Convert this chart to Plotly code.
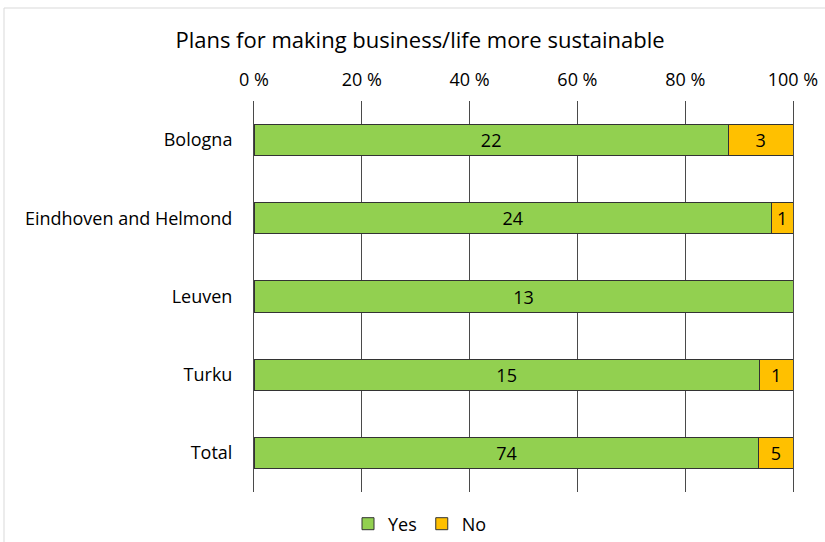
import plotly.graph_objects as go

categories = ["Bologna", "Eindhoven and Helmond", "Leuven", "Turku", "Total"]
yes_counts = [22, 24, 13, 15, 74]
no_counts = [3, 1, 0, 1, 5]
tick_vals = [0, 20, 40, 60, 80, 100]
tick_text = ["0 %", "20 %", "40 %", "60 %", "80 %", "100 %"]

FONT = "Open Sans"
FS = 18
GRID = "#4a4a4a"

fig = go.Figure()
fig.add_trace(go.Bar(
    y=categories, x=yes_counts, name="Yes", orientation="h",
    marker=dict(color="#92D050", line=dict(color="#333333", width=1)),
    text=[str(v) if v else "" for v in yes_counts],
    textposition="inside", insidetextanchor="middle",
    textfont=dict(color="black", size=FS, family=FONT),
    constraintext="none", hoverinfo="skip",
))
fig.add_trace(go.Bar(
    y=categories, x=no_counts, name="No", orientation="h",
    marker=dict(color="#FFC000", line=dict(color="#333333", width=1)),
    text=[str(v) if v else "" for v in no_counts],
    textposition="inside", insidetextanchor="middle",
    textfont=dict(color="black", size=FS, family=FONT),
    constraintext="none", hoverinfo="skip",
))

fig.update_layout(
    width=825, height=542,
    barmode="stack", barnorm="percent", bargap=0.6,
    paper_bgcolor="white", plot_bgcolor="white",
    font=dict(family=FONT, size=FS, color="black"),
    title=dict(text="Plans for making business/life more sustainable",
               x=420 / 825, xanchor="center", xref="container",
               y=1 - 40 / 542, yanchor="middle", yref="container",
               font=dict(size=22, family=FONT, color="black")),
    margin=dict(l=254, r=32, t=101, b=50, autoexpand=False),
    xaxis=dict(side="top", range=[0, 100], tickvals=tick_vals, ticktext=tick_text,
               showgrid=True, gridcolor=GRID, gridwidth=1, zeroline=False,
               showline=False, ticks="", ticklabelstandoff=10,
               tickfont=dict(size=FS, family=FONT), fixedrange=True),
    yaxis=dict(autorange="reversed", showgrid=False, showline=True, mirror=True,
               linecolor=GRID, linewidth=1, ticks="",
               ticklabelstandoff=17, tickfont=dict(size=FS, family=FONT)),
    legend=dict(orientation="h", x=420 / 825, xanchor="center", xref="container",
                y=1 - 524 / 542, yanchor="middle", yref="container",
                font=dict(size=FS, family=FONT), traceorder="normal",
                itemwidth=30, bgcolor="rgba(0,0,0,0)"),
    shapes=[dict(type="rect", xref="paper", yref="paper",
                 x0=(4 - 254) / 539, x1=(830 - 254) / 539,
                 y0=(50 - 550) / 391, y1=(492 - 8) / 391,
                 line=dict(color="#d9d9d9", width=1), fillcolor="rgba(0,0,0,0)",
                 layer="below")],
)

fig.write_html("out.html")
